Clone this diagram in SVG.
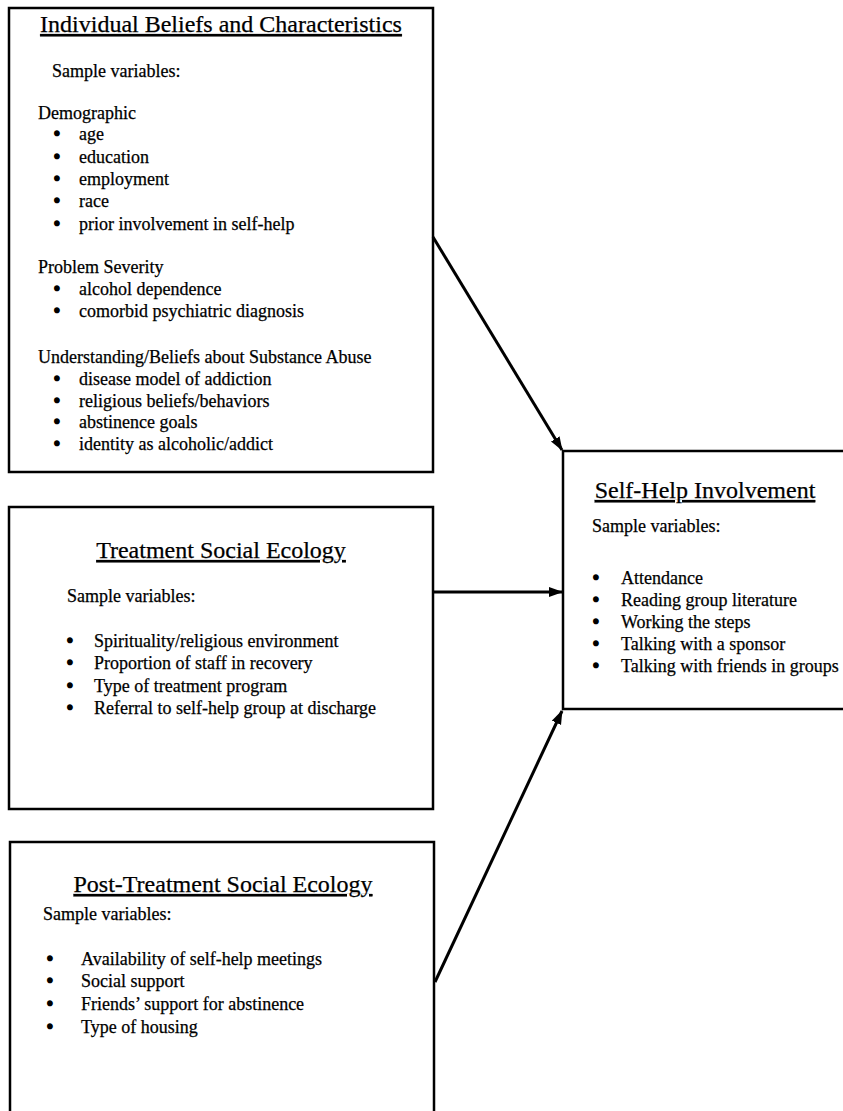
<svg xmlns="http://www.w3.org/2000/svg" width="843" height="1111" viewBox="0 0 843 1111">
<style>
.box{fill:#fff;stroke:#000;stroke-width:2.5}
.t{font-family:"Liberation Serif","Times New Roman",serif;fill:#000;stroke:#000;stroke-width:0.25}
.title{font-size:24px;text-decoration:underline;text-anchor:middle}
.body{font-size:18px}
.bul{font-size:18px;text-anchor:middle;stroke-width:1.6}
.conn{stroke:#000;stroke-width:3;fill:none;marker-end:url(#ah)}
</style>
<defs>
<marker id="ah" markerUnits="userSpaceOnUse" markerWidth="14" markerHeight="12" refX="13" refY="5" orient="auto">
<path d="M0,0 L14,5 L0,10 z" fill="#000"/>
</marker>
</defs>
<rect x="0" y="0" width="843" height="1111" fill="#fff"/>

<g id="node-individual">
<rect class="box" x="9" y="8" width="424" height="464"/>
<text class="t title" x="221" y="32">Individual Beliefs and Characteristics</text>
<text class="t body" x="52" y="77">Sample variables:</text>
<text class="t body" x="38" y="119">Demographic</text>
<text class="t bul" x="57" y="140">•</text><text class="t body" x="79" y="140">age</text>
<text class="t bul" x="57" y="163">•</text><text class="t body" x="79" y="163">education</text>
<text class="t bul" x="57" y="185">•</text><text class="t body" x="79" y="185">employment</text>
<text class="t bul" x="57" y="207">•</text><text class="t body" x="79" y="207">race</text>
<text class="t bul" x="57" y="230">•</text><text class="t body" x="79" y="230">prior involvement in self-help</text>
<text class="t body" x="38" y="273">Problem Severity</text>
<text class="t bul" x="57" y="295">•</text><text class="t body" x="79" y="295">alcohol dependence</text>
<text class="t bul" x="57" y="317">•</text><text class="t body" x="79" y="317">comorbid psychiatric diagnosis</text>
<text class="t body" x="38" y="363">Understanding/Beliefs about Substance Abuse</text>
<text class="t bul" x="57" y="385">•</text><text class="t body" x="79" y="385">disease model of addiction</text>
<text class="t bul" x="57" y="407">•</text><text class="t body" x="79" y="407">religious beliefs/behaviors</text>
<text class="t bul" x="57" y="428">•</text><text class="t body" x="79" y="428">abstinence goals</text>
<text class="t bul" x="57" y="450">•</text><text class="t body" x="79" y="450">identity as alcoholic/addict</text>
</g>

<g id="node-treatment">
<rect class="box" x="9" y="507" width="424" height="302"/>
<text class="t title" x="221" y="558">Treatment Social Ecology</text>
<text class="t body" x="67" y="602">Sample variables:</text>
<text class="t bul" x="70" y="647">•</text><text class="t body" x="94" y="647">Spirituality/religious environment</text>
<text class="t bul" x="70" y="669">•</text><text class="t body" x="94" y="669">Proportion of staff in recovery</text>
<text class="t bul" x="70" y="692">•</text><text class="t body" x="94" y="692">Type of treatment program</text>
<text class="t bul" x="70" y="714">•</text><text class="t body" x="94" y="714">Referral to self-help group at discharge</text>
</g>

<g id="node-posttreatment">
<rect class="box" x="10" y="842" width="424" height="290"/>
<text class="t title" x="223" y="892">Post-Treatment Social Ecology</text>
<text class="t body" x="43" y="920">Sample variables:</text>
<text class="t bul" x="50" y="965">•</text><text class="t body" x="81" y="965">Availability of self-help meetings</text>
<text class="t bul" x="50" y="987">•</text><text class="t body" x="81" y="987">Social support</text>
<text class="t bul" x="50" y="1010">•</text><text class="t body" x="81" y="1010">Friends’ support for abstinence</text>
<text class="t bul" x="50" y="1033">•</text><text class="t body" x="81" y="1033">Type of housing</text>
</g>

<g id="node-selfhelp">
<rect class="box" x="563" y="451" width="300" height="258"/>
<text class="t title" x="705" y="498">Self-Help Involvement</text>
<text class="t body" x="592" y="532">Sample variables:</text>
<text class="t bul" x="596" y="584">•</text><text class="t body" x="621" y="584">Attendance</text>
<text class="t bul" x="596" y="606">•</text><text class="t body" x="621" y="606">Reading group literature</text>
<text class="t bul" x="596" y="628">•</text><text class="t body" x="621" y="628">Working the steps</text>
<text class="t bul" x="596" y="650">•</text><text class="t body" x="621" y="650">Talking with a sponsor</text>
<text class="t bul" x="596" y="672">•</text><text class="t body" x="621" y="672">Talking with friends in groups</text>
</g>

<g id="connectors">
<line class="conn" x1="433" y1="237" x2="562" y2="450"/>
<line class="conn" x1="433" y1="592" x2="562" y2="592"/>
<line class="conn" x1="435" y1="982" x2="562" y2="711"/>
</g>
</svg>
